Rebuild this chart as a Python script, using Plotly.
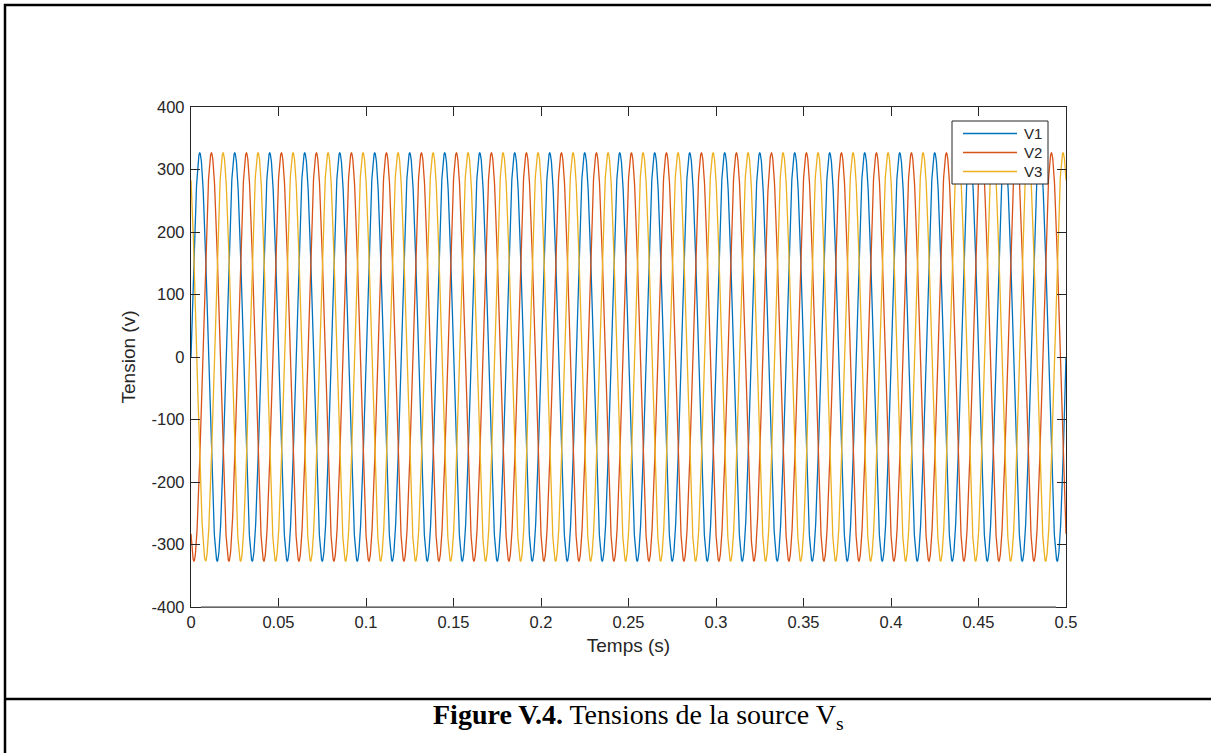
import numpy as np
import plotly.graph_objects as go

# Three-phase source: phase names, colours and waveform parameters
phase_names = ["V1", "V2", "V3"]
phase_colors = ["#0072BD", "#D95319", "#EDB120"]
phase_shift_deg = [0, -120, 120]
amplitude = 326.6      # peak phase voltage (V)
frequency = 50.0       # Hz
t_end = 0.5            # s
dt = 1e-4              # simulation step (s)

x_ticks = [0, 0.05, 0.1, 0.15, 0.2, 0.25, 0.3, 0.35, 0.4, 0.45, 0.5]
x_tick_text = ["0", "0.05", "0.1", "0.15", "0.2", "0.25", "0.3", "0.35", "0.4", "0.45", "0.5"]
y_ticks = [-400, -300, -200, -100, 0, 100, 200, 300, 400]
y_tick_text = ["-400", "-300", "-200", "-100", "0", "100", "200", "300", "400"]

W, H = 1211, 753
L, R, T, B = 191, 1066, 107, 607  # plot area in pixels

AXIS_FONT = "Liberation Sans, Arial, Helvetica"
INK = "#262626"


def px_x(px):
    return (px - L) / (R - L)


def px_y(py):
    return (B - py) / (B - T)


t = np.arange(0, t_end + dt / 2, dt)

fig = go.Figure()
for name, color, shift in zip(phase_names, phase_colors, phase_shift_deg):
    v = amplitude * np.sin(2 * np.pi * frequency * t + np.deg2rad(shift))
    fig.add_trace(go.Scatter(x=t, y=v, mode="lines", name=name,
                             line=dict(color=color, width=1.3), showlegend=False))

axis_common = dict(
    showgrid=False, zeroline=False, showline=True, linecolor=INK,
    linewidth=1.3, ticks="inside", ticklen=9, tickwidth=1.2, tickcolor=INK,
    mirror="allticks",
    tickfont=dict(family=AXIS_FONT, size=16.5, color=INK),
)

fig.update_layout(
    width=W, height=H, autosize=False,
    margin=dict(l=L, r=W - R, t=T, b=H - B),
    paper_bgcolor="white", plot_bgcolor="white",
    xaxis=dict(range=[0, t_end], tickvals=x_ticks, ticktext=x_tick_text,
               title=dict(text="Temps (s)", standoff=8,
                          font=dict(family=AXIS_FONT, size=19, color=INK)),
               **axis_common),
    yaxis=dict(range=[-400, 400], tickvals=y_ticks, ticktext=y_tick_text,
               ticklabelstandoff=2,
               title=dict(text="Tension (v)", standoff=10,
                          font=dict(family=AXIS_FONT, size=19, color=INK)),
               **axis_common),
    showlegend=False,
)

# Lighter bottom edge of the axes box, between the corner ticks
fig.add_shape(type="line", xref="paper", yref="paper",
              x0=px_x(L + 10), x1=px_x(R - 10), y0=0, y1=0,
              line=dict(color="#7c7c7c", width=1.3), layer="above")

# Legend box drawn in pixel positions
leg_box = (952, 121, 1048, 184)
leg_rows = [133.5, 152.5, 171.5]
fig.add_shape(type="rect", xref="paper", yref="paper",
              x0=px_x(leg_box[0]), x1=px_x(leg_box[2]),
              y0=px_y(leg_box[3]), y1=px_y(leg_box[1]),
              line=dict(color=INK, width=1), fillcolor="white", layer="above")
for name, color, row in zip(phase_names, phase_colors, leg_rows):
    fig.add_shape(type="line", xref="paper", yref="paper",
                  x0=px_x(963), x1=px_x(1017), y0=px_y(row), y1=px_y(row),
                  line=dict(color=color, width=1.3), layer="above")
    fig.add_annotation(xref="paper", yref="paper", x=px_x(1022), y=px_y(row),
                       xanchor="left", yanchor="middle", showarrow=False,
                       text=name, font=dict(family=AXIS_FONT, size=15, color=INK))

# Table frame around the figure and its caption (one open path)
xl, xr = px_x(5), px_x(W + 20)
yt, ysep, yb = px_y(5), px_y(699), px_y(H + 20)
frame_path = (f"M {xr} {yt} L {xl} {yt} L {xl} {yb} "
              f"M {xl} {ysep} L {xr} {ysep}")
fig.add_shape(type="path", xref="paper", yref="paper", path=frame_path,
              line=dict(color="black", width=2.5), fillcolor="rgba(0,0,0,0)")

fig.add_annotation(
    xref="paper", yref="paper", x=px_x(638), y=px_y(716),
    xanchor="center", yanchor="middle", showarrow=False,
    text="<b>Figure V.4.</b> Tensions de la source V<sub>s</sub>",
    font=dict(family="Liberation Serif, Times New Roman", size=28, color="black"),
)

fig.write_html("out.html")
